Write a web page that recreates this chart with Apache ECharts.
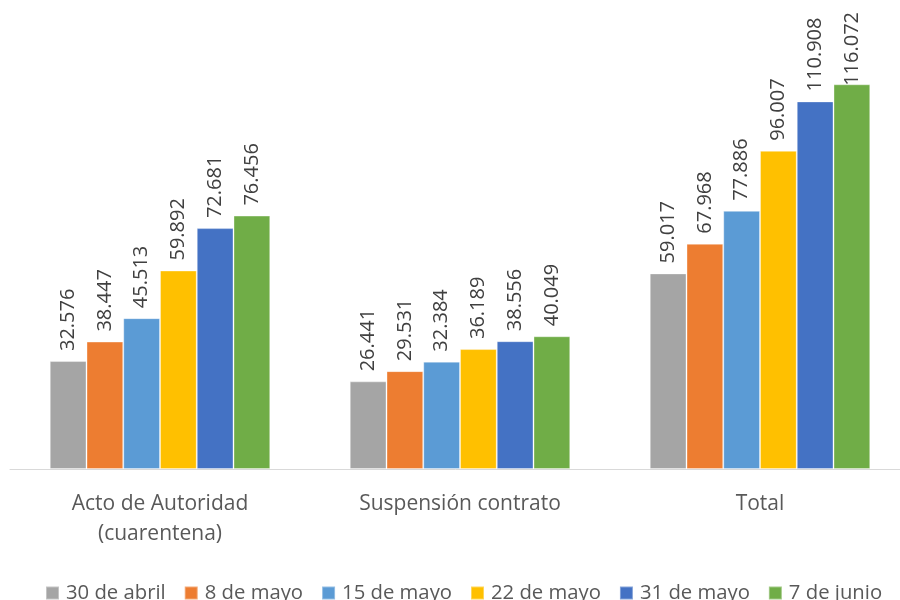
<!DOCTYPE html>
<html><head><meta charset="utf-8">
<script src="https://cdn.jsdelivr.net/npm/echarts@6/dist/echarts.min.js"></script>
<style>html,body{margin:0;padding:0;background:#fff}#c{width:900px;height:600px}</style>
</head><body><div id="c"></div>
<script>
var categories = ['Acto de Autoridad\n(cuarentena)', 'Suspensión contrato', 'Total'];
var seriesNames = ['30 de abril', '8 de mayo', '15 de mayo', '22 de mayo', '31 de mayo', '7 de junio'];
var s30abr = [32.576, 26.441, 59.017];
var s8may = [38.447, 29.531, 67.968];
var s15may = [45.513, 32.384, 77.886];
var s22may = [59.892, 36.189, 96.007];
var s31may = [72.681, 38.556, 110.908];
var s7jun = [76.456, 40.049, 116.072];
var colors = ['#A5A5A5', '#ED7D31', '#5B9BD5', '#FFC000', '#4472C4', '#70AD47'];
var allData = [s30abr, s8may, s15may, s22may, s31may, s7jun];
var FONT = '"Open Sans", "Noto Sans", sans-serif';
var chart = echarts.init(document.getElementById('c'));
chart.setOption({
  animation: false,
  color: colors,
  grid: { left: 10, width: 900, top: 5, height: 464, outerBoundsMode: 'none', containLabel: false },
  legend: {
    bottom: -3, left: 45, width: 1000, padding: 0, itemWidth: 13, itemHeight: 13, itemGap: 18,
    icon: 'rect',
    textStyle: { fontFamily: FONT, fontSize: 20.3, color: '#595959', padding: [0,0,0,2] },
    data: seriesNames
  },
  xAxis: {
    type: 'category', data: categories,
    axisLine: { lineStyle: { color: '#D9D9D9', width: 1 } },
    axisTick: { show: false },
    axisLabel: { fontFamily: FONT, fontSize: 21, color: '#595959', lineHeight: 30, margin: 20, interval: 0 }
  },
  yAxis: { type: 'value', min: 0, max: 140, show: false, splitLine: { show: false } },
  series: seriesNames.map(function (n, i) {
    return {
      name: n, type: 'bar', data: allData[i],
      barGap: '0%', barCategoryGap: '26.5%',
      itemStyle: { borderColor: 'rgba(255,255,255,0.35)', borderWidth: 1 },
      label: {
        show: true, position: 'top', rotate: 90, align: 'left', verticalAlign: 'middle',
        distance: 10, fontFamily: FONT, fontSize: 20, color: '#404040',
        formatter: function (p) { return p.value.toFixed(3); }
      },
      labelLayout: function (p) {
        var r = p.labelRect;
        if (r.y < 12) { return { y: 12 + r.height }; }
        return {};
      }
    };
  })
});
</script></body></html>
